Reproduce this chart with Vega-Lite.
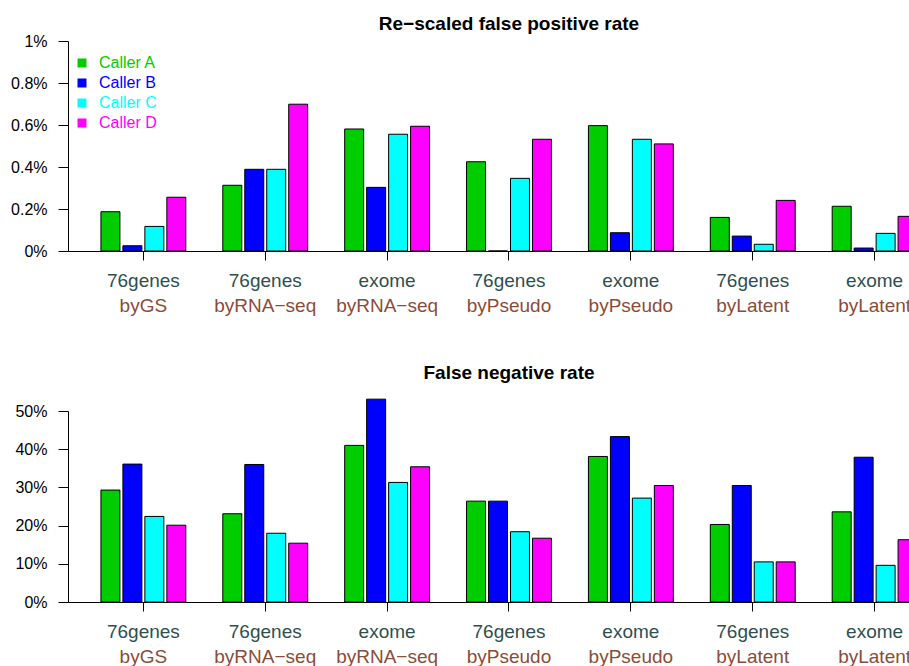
{
  "$schema": "https://vega.github.io/schema/vega-lite/v6.json",
  "background": "white",
  "padding": {"left": 10, "top": 15, "right": 0, "bottom": 0},
  "config": {
    "font": "Liberation Sans",
    "view": {"stroke": null},
    "axis": {"grid": false, "domainColor": "black", "tickColor": "black", "labelColor": "black", "domainWidth": 1, "tickWidth": 1},
    "title": {"fontSize": 19, "fontWeight": "bold", "color": "black", "anchor": "middle", "offset": 0, "font": "Liberation Sans"},
    "concat": {"spacing": 48}
  },
  "datasets": {
    "fpr": [
      {"group": "76genes|byGS", "caller": "Caller A", "value": 0.00187},
      {"group": "76genes|byGS", "caller": "Caller B", "value": 0.00025},
      {"group": "76genes|byGS", "caller": "Caller C", "value": 0.00117},
      {"group": "76genes|byGS", "caller": "Caller D", "value": 0.00256},
      {"group": "76genes|byRNA−seq", "caller": "Caller A", "value": 0.00313},
      {"group": "76genes|byRNA−seq", "caller": "Caller B", "value": 0.00389},
      {"group": "76genes|byRNA−seq", "caller": "Caller C", "value": 0.00389},
      {"group": "76genes|byRNA−seq", "caller": "Caller D", "value": 0.00699},
      {"group": "exome|byRNA−seq", "caller": "Caller A", "value": 0.00581},
      {"group": "exome|byRNA−seq", "caller": "Caller B", "value": 0.00303},
      {"group": "exome|byRNA−seq", "caller": "Caller C", "value": 0.00556},
      {"group": "exome|byRNA−seq", "caller": "Caller D", "value": 0.00594},
      {"group": "76genes|byPseudo", "caller": "Caller A", "value": 0.00425},
      {"group": "76genes|byPseudo", "caller": "Caller B", "value": 0.0},
      {"group": "76genes|byPseudo", "caller": "Caller C", "value": 0.00346},
      {"group": "76genes|byPseudo", "caller": "Caller D", "value": 0.00532},
      {"group": "exome|byPseudo", "caller": "Caller A", "value": 0.00597},
      {"group": "exome|byPseudo", "caller": "Caller B", "value": 0.00087},
      {"group": "exome|byPseudo", "caller": "Caller C", "value": 0.00532},
      {"group": "exome|byPseudo", "caller": "Caller D", "value": 0.0051},
      {"group": "76genes|byLatent", "caller": "Caller A", "value": 0.0016},
      {"group": "76genes|byLatent", "caller": "Caller B", "value": 0.00071},
      {"group": "76genes|byLatent", "caller": "Caller C", "value": 0.00032},
      {"group": "76genes|byLatent", "caller": "Caller D", "value": 0.00241},
      {"group": "exome|byLatent", "caller": "Caller A", "value": 0.00213},
      {"group": "exome|byLatent", "caller": "Caller B", "value": 0.00014},
      {"group": "exome|byLatent", "caller": "Caller C", "value": 0.00084},
      {"group": "exome|byLatent", "caller": "Caller D", "value": 0.00165}
    ],
    "fnr": [
      {"group": "76genes|byGS", "caller": "Caller A", "value": 0.293},
      {"group": "76genes|byGS", "caller": "Caller B", "value": 0.361},
      {"group": "76genes|byGS", "caller": "Caller C", "value": 0.224},
      {"group": "76genes|byGS", "caller": "Caller D", "value": 0.201},
      {"group": "76genes|byRNA−seq", "caller": "Caller A", "value": 0.231},
      {"group": "76genes|byRNA−seq", "caller": "Caller B", "value": 0.36},
      {"group": "76genes|byRNA−seq", "caller": "Caller C", "value": 0.18},
      {"group": "76genes|byRNA−seq", "caller": "Caller D", "value": 0.154},
      {"group": "exome|byRNA−seq", "caller": "Caller A", "value": 0.41},
      {"group": "exome|byRNA−seq", "caller": "Caller B", "value": 0.531},
      {"group": "exome|byRNA−seq", "caller": "Caller C", "value": 0.313},
      {"group": "exome|byRNA−seq", "caller": "Caller D", "value": 0.354},
      {"group": "76genes|byPseudo", "caller": "Caller A", "value": 0.264},
      {"group": "76genes|byPseudo", "caller": "Caller B", "value": 0.264},
      {"group": "76genes|byPseudo", "caller": "Caller C", "value": 0.184},
      {"group": "76genes|byPseudo", "caller": "Caller D", "value": 0.167},
      {"group": "exome|byPseudo", "caller": "Caller A", "value": 0.381},
      {"group": "exome|byPseudo", "caller": "Caller B", "value": 0.433},
      {"group": "exome|byPseudo", "caller": "Caller C", "value": 0.272},
      {"group": "exome|byPseudo", "caller": "Caller D", "value": 0.305},
      {"group": "76genes|byLatent", "caller": "Caller A", "value": 0.203},
      {"group": "76genes|byLatent", "caller": "Caller B", "value": 0.305},
      {"group": "76genes|byLatent", "caller": "Caller C", "value": 0.105},
      {"group": "76genes|byLatent", "caller": "Caller D", "value": 0.105},
      {"group": "exome|byLatent", "caller": "Caller A", "value": 0.236},
      {"group": "exome|byLatent", "caller": "Caller B", "value": 0.379},
      {"group": "exome|byLatent", "caller": "Caller C", "value": 0.096},
      {"group": "exome|byLatent", "caller": "Caller D", "value": 0.163}
    ]
  },
  "vconcat": [
    {
      "width": 882,
      "height": 210,
      "title": {"text": "Re−scaled false positive rate", "offset": -1},
      "data": {"name": "fpr"},
      "layer": [
        {
          "mark": {"type": "bar", "stroke": "black", "strokeWidth": 1},
          "encoding": {
            "x": {"field": "group", "type": "nominal", "sort": null,
              "scale": {"paddingInner": 0.279, "paddingOuter": 0.258},
              "axis": {"orient": "bottom", "title": null, "labelAngle": 0, "labelExpr": "split(datum.value, '|')[0]", "labelColor": "#2F4F4F", "labelFontSize": 19, "labelPadding": 11, "tickSize": 9}},
            "xOffset": {"field": "caller", "type": "nominal", "scale": {"paddingInner": 0.136, "paddingOuter": 0.068}},
            "y": {"field": "value", "type": "quantitative",
              "scale": {"domain": [0, 0.01], "nice": false},
              "axis": {"title": null, "values": [0, 0.002, 0.004, 0.006, 0.008, 0.01], "format": ".1~%", "labelFontSize": 16, "tickSize": 10, "labelPadding": 11}},
            "color": {"field": "caller", "type": "nominal",
              "scale": {"domain": ["Caller A", "Caller B", "Caller C", "Caller D"], "range": ["#00CD00", "#0000FF", "#00FFFF", "#FF00FF"]},
              "legend": {"orient": "none", "legendX": 6, "legendY": 14, "title": null, "symbolType": "square", "symbolSize": 81, "symbolStrokeWidth": 0, "labelFontSize": 16, "labelOffset": 9, "rowPadding": 4, "padding": 0,
                "labelColor": {"expr": "datum.value === 'Caller A' ? '#00CD00' : datum.value === 'Caller B' ? '#0000FF' : datum.value === 'Caller C' ? '#00FFFF' : '#FF00FF'"}}}
          }
        },
        {
          "mark": {"type": "bar", "opacity": 0},
          "encoding": {
            "x": {"field": "group", "type": "nominal", "sort": null,
              "axis": {"orient": "bottom", "title": null, "labelAngle": 0, "labelExpr": "split(datum.value, '|')[1]", "labelColor": "#8B4C39", "labelFontSize": 19, "labelPadding": 45, "ticks": false, "domain": false}}
          }
        }
      ],
      "resolve": {"axis": {"x": "independent"}}
    },
    {
      "width": 882,
      "height": 191,
      "title": {"text": "False negative rate", "offset": 16},
      "data": {"name": "fnr"},
      "layer": [
        {
          "mark": {"type": "bar", "stroke": "black", "strokeWidth": 1},
          "encoding": {
            "x": {"field": "group", "type": "nominal", "sort": null,
              "scale": {"paddingInner": 0.279, "paddingOuter": 0.258},
              "axis": {"orient": "bottom", "title": null, "labelAngle": 0, "labelExpr": "split(datum.value, '|')[0]", "labelColor": "#2F4F4F", "labelFontSize": 19, "labelPadding": 11, "tickSize": 9}},
            "xOffset": {"field": "caller", "type": "nominal", "scale": {"paddingInner": 0.136, "paddingOuter": 0.068}},
            "y": {"field": "value", "type": "quantitative",
              "scale": {"domain": [0, 0.5], "nice": false},
              "axis": {"title": null, "values": [0, 0.1, 0.2, 0.3, 0.4, 0.5], "format": ".0%", "labelFontSize": 16, "tickSize": 10, "labelPadding": 11}},
            "color": {"field": "caller", "type": "nominal", "legend": null}
          }
        },
        {
          "mark": {"type": "bar", "opacity": 0},
          "encoding": {
            "x": {"field": "group", "type": "nominal", "sort": null,
              "axis": {"orient": "bottom", "title": null, "labelAngle": 0, "labelExpr": "split(datum.value, '|')[1]", "labelColor": "#8B4C39", "labelFontSize": 19, "labelPadding": 45, "ticks": false, "domain": false}}
          }
        }
      ],
      "resolve": {"axis": {"x": "independent"}}
    }
  ],
  "resolve": {"legend": {"color": "independent"}}
}
